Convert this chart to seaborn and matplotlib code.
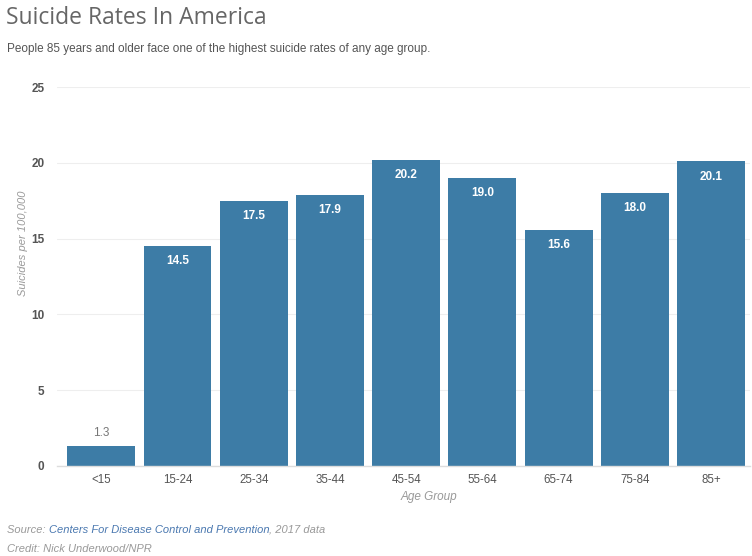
import matplotlib
matplotlib.use("Agg")
import matplotlib.pyplot as plt
import seaborn as sns
import pandas as pd

age_groups = ["<15", "15-24", "25-34", "35-44", "45-54", "55-64", "65-74", "75-84", "85+"]
rates = [1.3, 14.5, 17.5, 17.9, 20.2, 19.0, 15.6, 18.0, 20.1]
y_ticks = [0, 5, 10, 15, 20, 25]

df = pd.DataFrame({"Age Group": age_groups, "Rate": rates})

sns.set_theme(style="white")
plt.rcParams["font.family"] = ["Liberation Sans", "DejaVu Sans"]

W, H = 752, 556
fig = plt.figure(figsize=(W / 100, H / 100), dpi=100)
ax = fig.add_axes([57 / W, (H - 466) / H, (750 - 57) / W, (466 - 87) / H])

bar_color = "#3d7ca6"
sns.barplot(data=df, x="Age Group", y="Rate", color=bar_color, width=0.89,
            saturation=1, ax=ax, edgecolor="none")

ax.set_ylim(0, 25)
ax.set_xlim(-0.58, 8.51)
ax.set_yticks(y_ticks)
ax.set_yticklabels([str(t) for t in y_ticks], color="#555555", fontsize=8.5, fontweight="bold")
ax.set_xticks(range(len(age_groups)))
ax.set_xticklabels(age_groups, color="#555555", fontsize=8.3)
ax.tick_params(axis="y", length=0, pad=9)
ax.tick_params(axis="x", length=4, color="#dddddd", width=1, pad=2, direction="out")
ax.yaxis.grid(True, color="#eeeeee", linewidth=0.8)
ax.set_axisbelow(True)
for s in ["top", "right", "left"]:
    ax.spines[s].set_visible(False)
ax.spines["bottom"].set_color("#dddddd")
ax.spines["bottom"].set_linewidth(1)
ax.set_xlabel("")
ax.set_ylabel("")

# Value labels: inside the bar top in white, above the bar when too short
for i, v in enumerate(rates):
    if v < 3:
        ax.annotate(f"{v:.1f}", (i, v), xytext=(0, 5), textcoords="offset points",
                    ha="center", va="bottom", color="#777777", fontsize=8.5)
    else:
        ax.annotate(f"{v:.1f}", (i, v), xytext=(0, -11), textcoords="offset points",
                    ha="center", va="center", color="white", fontsize=8.5,
                    fontweight="bold")

# Axis titles
fig.text(23 / W, 1 - 243 / H, "Suicides per 100,000", rotation=90, ha="center",
         va="center", color="#999999", fontsize=8, style="italic")
fig.text(429 / W, 1 - 497 / H, "Age Group", ha="center", va="center",
         color="#999999", fontsize=8.5, style="italic")

# Title and subtitle
fig.text(6 / W, 1 - 18 / H, "Suicide Rates In America", ha="left", va="center",
         color="#666666", fontsize=16.5, family=["Open Sans", "DejaVu Sans"])
fig.text(7 / W, 1 - 49 / H,
         "People 85 years and older face one of the highest suicide rates of any age group.",
         ha="left", va="center", color="#555555", fontsize=8.5)

# Source line with the agency name in blue
fig.canvas.draw()
renderer = fig.canvas.get_renderer()
x = 7
pieces = [("Source: ", "#999999"),
          ("Centers For Disease Control and Prevention", "#4a78b0"),
          (", 2017 data", "#999999")]
for txt, col in pieces:
    t = fig.text(x / W, 1 - 530 / H, txt, ha="left", va="center", color=col,
                 fontsize=8, style="italic")
    bb = t.get_window_extent(renderer=renderer)
    x += bb.width
fig.text(7 / W, 1 - 549 / H, "Credit: Nick Underwood/NPR", ha="left", va="center",
         color="#999999", fontsize=8, style="italic")

fig.savefig("out.png", dpi=100)
